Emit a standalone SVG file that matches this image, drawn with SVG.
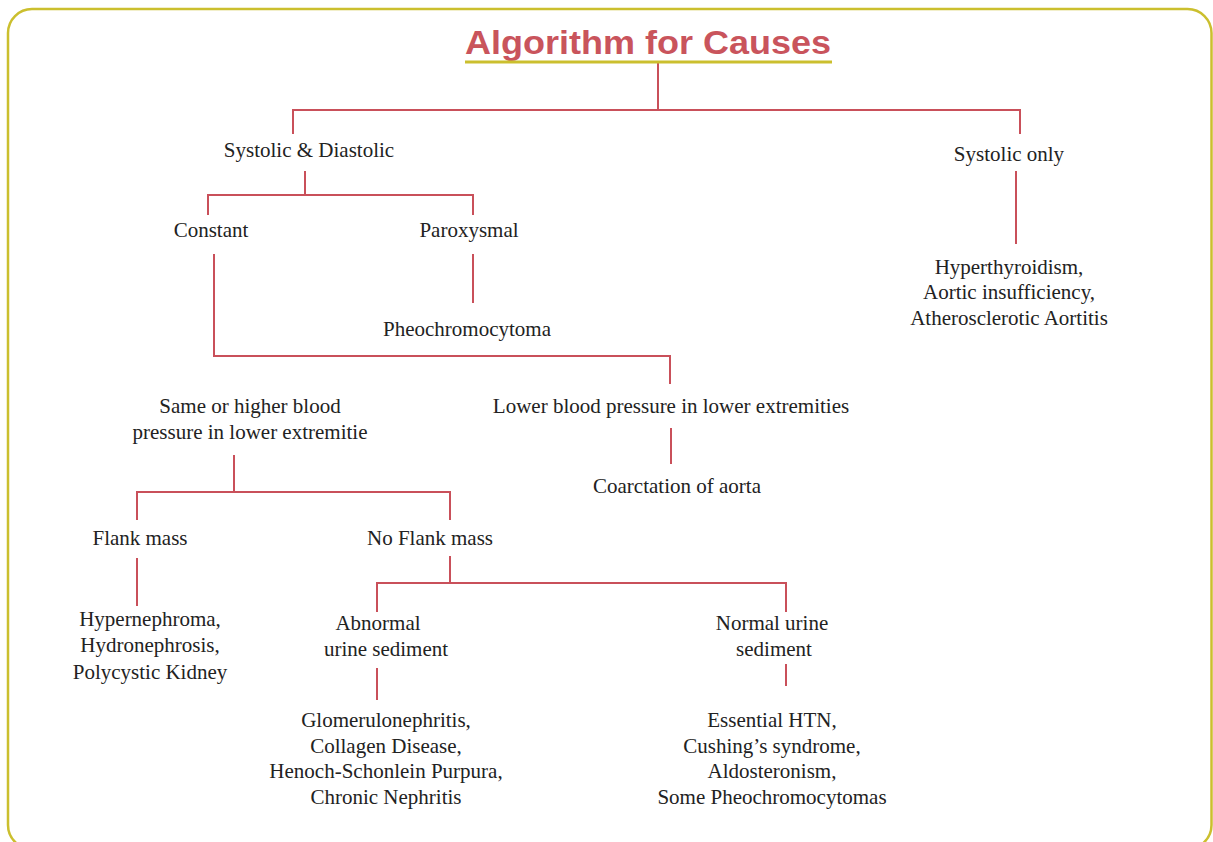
<svg xmlns="http://www.w3.org/2000/svg" width="1213" height="842" viewBox="0 0 1213 842">
  <style>
    .frame { fill: none; stroke: #cbbf2e; stroke-width: 2.5; }
    .rule { stroke: #cbbf2e; stroke-width: 3; }
    .link { fill: none; stroke: #c9505a; stroke-width: 2; }
  </style>
  <rect width="1213" height="842" fill="#ffffff"/>
  <rect class="frame" x="8" y="9" width="1203.5" height="840" rx="24" ry="24"/>

  <g id="connectors">
    <path class="link" d="M658 63 V110 M293 134 V110 H1020 V134"/>
    <path class="link" d="M305 171 V195 M208 215 V195 H473 V215"/>
    <path class="link" d="M473 254 V303"/>
    <path class="link" d="M214 254 V356 H670 V384"/>
    <path class="link" d="M671 428 V464"/>
    <path class="link" d="M234 455 V492 M137 520 V492 H450 V520"/>
    <path class="link" d="M137 558 V606"/>
    <path class="link" d="M450 556 V583 M377 612 V583 H786 V612"/>
    <path class="link" d="M377 668 V700"/>
    <path class="link" d="M786 664 V686"/>
    <path class="link" d="M1016 171 V244"/>
  </g>

  <g font-size="21" fill="#222" text-anchor="middle">
    <g id="systolic-diastolic"><text font-family="Liberation Serif" x="309" y="157">Systolic &amp; Diastolic</text></g>
    <g id="systolic-only"><text font-family="Liberation Serif" x="1009" y="161">Systolic only</text></g>
    <g id="systolic-only-causes">
      <text font-family="Liberation Serif" x="1009" y="274">Hyperthyroidism,</text>
      <text font-family="Liberation Serif" x="1009" y="299">Aortic insufficiency,</text>
      <text font-family="Liberation Serif" x="1009" y="325">Atherosclerotic Aortitis</text>
    </g>
    <g id="constant"><text font-family="Liberation Serif" x="211" y="237">Constant</text></g>
    <g id="paroxysmal"><text font-family="Liberation Serif" x="469" y="237">Paroxysmal</text></g>
    <g id="pheochromocytoma"><text font-family="Liberation Serif" x="467" y="336">Pheochromocytoma</text></g>
    <g id="same-or-higher">
      <text font-family="Liberation Serif" x="250" y="413">Same or higher blood</text>
      <text font-family="Liberation Serif" x="250" y="439">pressure in lower extremitie</text>
    </g>
    <g id="lower-bp"><text font-family="Liberation Serif" x="671" y="413">Lower blood pressure in lower extremities</text></g>
    <g id="coarctation"><text font-family="Liberation Serif" x="677" y="493">Coarctation of aorta</text></g>
    <g id="flank-mass"><text font-family="Liberation Serif" x="140" y="545">Flank mass</text></g>
    <g id="no-flank-mass"><text font-family="Liberation Serif" x="430" y="545">No Flank mass</text></g>
    <g id="flank-mass-causes">
      <text font-family="Liberation Serif" x="150" y="626">Hypernephroma,</text>
      <text font-family="Liberation Serif" x="150" y="652">Hydronephrosis,</text>
      <text font-family="Liberation Serif" x="150" y="679">Polycystic Kidney</text>
    </g>
    <g id="abnormal-sediment">
      <text font-family="Liberation Serif" x="378" y="630">Abnormal</text>
      <text font-family="Liberation Serif" x="386" y="656">urine sediment</text>
    </g>
    <g id="normal-sediment">
      <text font-family="Liberation Serif" x="772" y="630">Normal urine</text>
      <text font-family="Liberation Serif" x="774" y="656">sediment</text>
    </g>
    <g id="abnormal-causes">
      <text font-family="Liberation Serif" x="386" y="727">Glomerulonephritis,</text>
      <text font-family="Liberation Serif" x="386" y="753">Collagen Disease,</text>
      <text font-family="Liberation Serif" x="386" y="778">Henoch-Schonlein Purpura,</text>
      <text font-family="Liberation Serif" x="386" y="804">Chronic Nephritis</text>
    </g>
    <g id="normal-causes">
      <text font-family="Liberation Serif" x="772" y="727">Essential HTN,</text>
      <text font-family="Liberation Serif" x="772" y="753">Cushing’s syndrome,</text>
      <text font-family="Liberation Serif" x="772" y="778">Aldosteronism,</text>
      <text font-family="Liberation Serif" x="772" y="804">Some Pheochromocytomas</text>
    </g>
  </g>

  <g id="title">
    <text font-family="Liberation Sans" font-weight="bold" font-size="33" fill="#c9545c" x="648" y="54" text-anchor="middle" textLength="366" lengthAdjust="spacingAndGlyphs">Algorithm for Causes</text>
    <line class="rule" x1="465" y1="62" x2="832" y2="62"/>
  </g>
</svg>
